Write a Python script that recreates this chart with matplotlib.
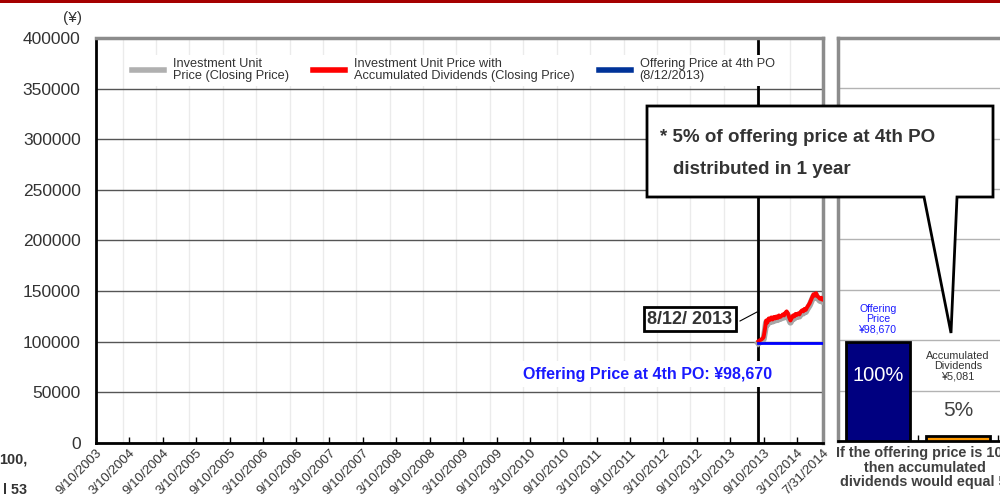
import numpy as np
import pandas as pd
import matplotlib
matplotlib.use('Agg')
import matplotlib.pyplot as plt
from matplotlib.lines import Line2D
from matplotlib.patches import Polygon, Rectangle

plt.rcParams['font.family'] = ['Liberation Sans', 'DejaVu Sans']

# Datos
tick_labels = ['9/10/2003', '3/10/2004', '9/10/2004', '3/10/2005', '9/10/2005', '3/10/2006',
               '9/10/2006', '3/10/2007', '9/10/2007', '3/10/2008', '9/10/2008', '3/10/2009',
               '9/10/2009', '3/10/2010', '9/10/2010', '3/10/2011', '9/10/2011', '3/10/2012',
               '9/10/2012', '3/10/2013', '9/10/2013', '3/10/2014', '7/31/2014']

po_date = '2013-08-12'
po_price = 98670
end_date = '2014-07-31'

# cierres semanales desde la 4a oferta
week_dates = list(pd.date_range(po_date, periods=51, freq='7D')) + [pd.Timestamp(end_date)]
price_with_div = [100500, 101500, 102000, 103000, 104500, 112000, 121000, 119000, 123000, 121500,
                  124000, 122000, 124500, 123000, 125000, 123500, 126000, 124500, 125500, 127000,
                  126000, 128500, 130000, 128000, 124000, 121000, 123500, 126000, 125000, 127500,
                  126500, 128000, 127000, 129500, 131000, 130000, 132500, 131500, 134000, 136000,
                  138000, 141000, 144000, 147000, 145500, 148000, 145000, 144000, 142500, 143500,
                  141500, 142000]
price_close = [98500, 99500, 100000, 101000, 102500, 110000, 119000, 117000, 121000, 119500,
               122000, 120000, 122500, 121000, 123000, 121500, 124000, 122500, 123500, 125000,
               124000, 126500, 128000, 126000, 122000, 119000, 121500, 124000, 123000, 125500,
               124500, 126000, 125000, 127500, 129000, 128000, 130500, 129500, 132000, 134000,
               136000, 139000, 142000, 145000, 143500, 146000, 143000, 142000, 140500, 141500,
               139500, 140000]

bar_values = [98670, 5081]
bar_colors = ['#000080', '#ff9900']

W, H = 1000, 499
fig = plt.figure(figsize=(10, 4.99), dpi=100)


def fig_rect(x0, y0, x1, y1):
    return [x0 / W, 1 - y1 / H, (x1 - x0) / W, (y1 - y0) / H]


ax = fig.add_axes(fig_rect(96, 38, 823, 443))
axr = fig.add_axes(fig_rect(838, 38, 1018, 441))
ov = fig.add_axes([0, 0, 1, 1])
ov.set_xlim(0, W)
ov.set_ylim(H, 0)
ov.axis('off')
ov.set_zorder(10)

# Grafico principal
ax.plot(week_dates, price_close, color='#a6a6a6', lw=4.5, zorder=3)
ax.plot(week_dates, price_with_div, color='#ff0000', lw=2.8, zorder=4)
ax.plot(pd.to_datetime([po_date, end_date]), [po_price, po_price], color='#0000ff', lw=2, zorder=4)
ax.axvline(pd.Timestamp(po_date), color='black', lw=2, zorder=2)

ax.set_ylim(0, 400000)
ax.set_yticks(range(0, 400001, 50000))
ax.set_yticklabels([str(v) for v in range(0, 400001, 50000)])
ax.tick_params(axis='y', length=0, labelsize=12.5, labelcolor='#333333', pad=11)
ax.grid(axis='y', color='#555555', lw=1)

tick_pos = pd.to_datetime(tick_labels, format='%m/%d/%Y')
ax.set_xlim(tick_pos[0], tick_pos[-1])
ax.set_xticks(tick_pos)
ax.set_xticklabels(tick_labels, rotation=45, ha='right', rotation_mode='anchor')
ax.tick_params(axis='x', direction='in', length=4, width=1, labelsize=9.5,
               labelcolor='#333333', pad=3)
ax.set_xticks(tick_pos[1:-1] - pd.Timedelta(days=36), minor=True)
ax.tick_params(axis='x', which='minor', length=0)
ax.grid(axis='x', which='minor', color='#ebebeb', lw=1)
ax.set_axisbelow(True)

for s in ['left', 'bottom']:
    ax.spines[s].set_color('black')
    ax.spines[s].set_linewidth(2)
for s in ['top', 'right']:
    ax.spines[s].set_color('#8c8c8c')
    ax.spines[s].set_linewidth(2.5)

handles = [Line2D([], [], color='#b0b0b0', lw=4),
           Line2D([], [], color='#ff0000', lw=4),
           Line2D([], [], color='#003399', lw=4)]
labels = ['Investment Unit\nPrice (Closing Price)',
          'Investment Unit Price with\nAccumulated Dividends (Closing Price)',
          'Offering Price at 4th PO\n(8/12/2013)']
leg = ax.legend(handles, labels, ncol=3, loc='upper left', bbox_to_anchor=(0.035, 0.975),
                fontsize=9.2, handlelength=2.5, handletextpad=0.7, columnspacing=1.9,
                frameon=True, fancybox=False, borderpad=0.3, labelspacing=0)
leg.get_frame().set_facecolor('white')
leg.get_frame().set_edgecolor('none')
leg.get_frame().set_alpha(1)
for t in leg.get_texts():
    t.set_color('#333333')
    t.set_linespacing(0.95)

# Panel derecho
axr.bar([0, 1], bar_values, width=0.8, color=bar_colors, edgecolor='black', lw=2, zorder=3)
axr.set_xlim(-0.5, 1.75)
axr.set_ylim(0, 398000)
axr.set_yticks(range(0, 400001, 50000))
axr.tick_params(axis='y', length=0, labelleft=False)
axr.grid(axis='y', color='#b3b3b3', lw=1)
axr.set_axisbelow(True)
axr.set_xticks([0.5, 1.5])
axr.set_xticklabels([])
axr.tick_params(axis='x', direction='in', length=4, width=1)
axr.spines['right'].set_visible(False)
for s in ['left', 'top']:
    axr.spines[s].set_color('#8c8c8c')
    axr.spines[s].set_linewidth(2.5)
axr.spines['bottom'].set_color('black')
axr.spines['bottom'].set_linewidth(2)

axr.text(0, 106000, 'Offering\nPrice\n¥{:,}'.format(bar_values[0]), ha='center', va='bottom',
         fontsize=7.6, color='#1a1aff', linespacing=1.0)
axr.text(0, 65000, '100%', ha='center', va='center', fontsize=14.5, color='white')
axr.text(1, 74000, 'Accumulated\nDividends\n¥{:,}'.format(bar_values[1]), ha='center',
         va='center', fontsize=7.8, color='#333333', linespacing=1.0)
axr.text(1, 30000, '5%', ha='center', va='center', fontsize=15, color='#404040')

# Anotaciones
ov.add_patch(Rectangle((0, 0), W, 2.7, color='#a50000', lw=0))
ov.text(72, 18, '(¥)', ha='center', va='center', fontsize=11, color='#333333')

callout = [(647, 106), (993, 106), (993, 197), (957, 197), (951, 333), (924, 197), (647, 197)]
ov.add_patch(Polygon(callout, closed=True, facecolor='white', edgecolor='black', lw=2, zorder=10))
ov.text(660, 137, '* 5% of offering price at 4th PO', ha='left', va='center', fontsize=13.5,
        fontweight='bold', color='#333333', zorder=11)
ov.text(673, 170, 'distributed in 1 year', ha='left', va='center', fontsize=13.5,
        fontweight='bold', color='#333333', zorder=11)

ov.plot([740, 757], [321, 312], color='black', lw=0.8)
ov.text(690, 319, '8/12/ 2013', ha='center', va='center', fontsize=13, fontweight='bold',
        color='#333333',
        bbox=dict(boxstyle='square,pad=0.2', fc='white', ec='black', lw=2))

ov.text(648, 374, 'Offering Price at 4th PO: ¥98,670', ha='center', va='center', fontsize=11.5,
        fontweight='bold', color='#1a1aff',
        bbox=dict(boxstyle='square,pad=0.35', fc='white', ec='none'))

ov.text(925, 446, 'If the offering price is 100,\nthen accumulated\ndividends would equal 5.',
        ha='center', va='top', fontsize=10.4, fontweight='bold', color='#404040',
        linespacing=1.05)
ov.text(27, 460, '100,', ha='right', va='center', fontsize=10.4, fontweight='bold', color='#333333')
ov.text(27, 490, 'l 53', ha='right', va='center', fontsize=10.4, fontweight='bold', color='#333333')

fig.savefig('out.png', dpi=100)
